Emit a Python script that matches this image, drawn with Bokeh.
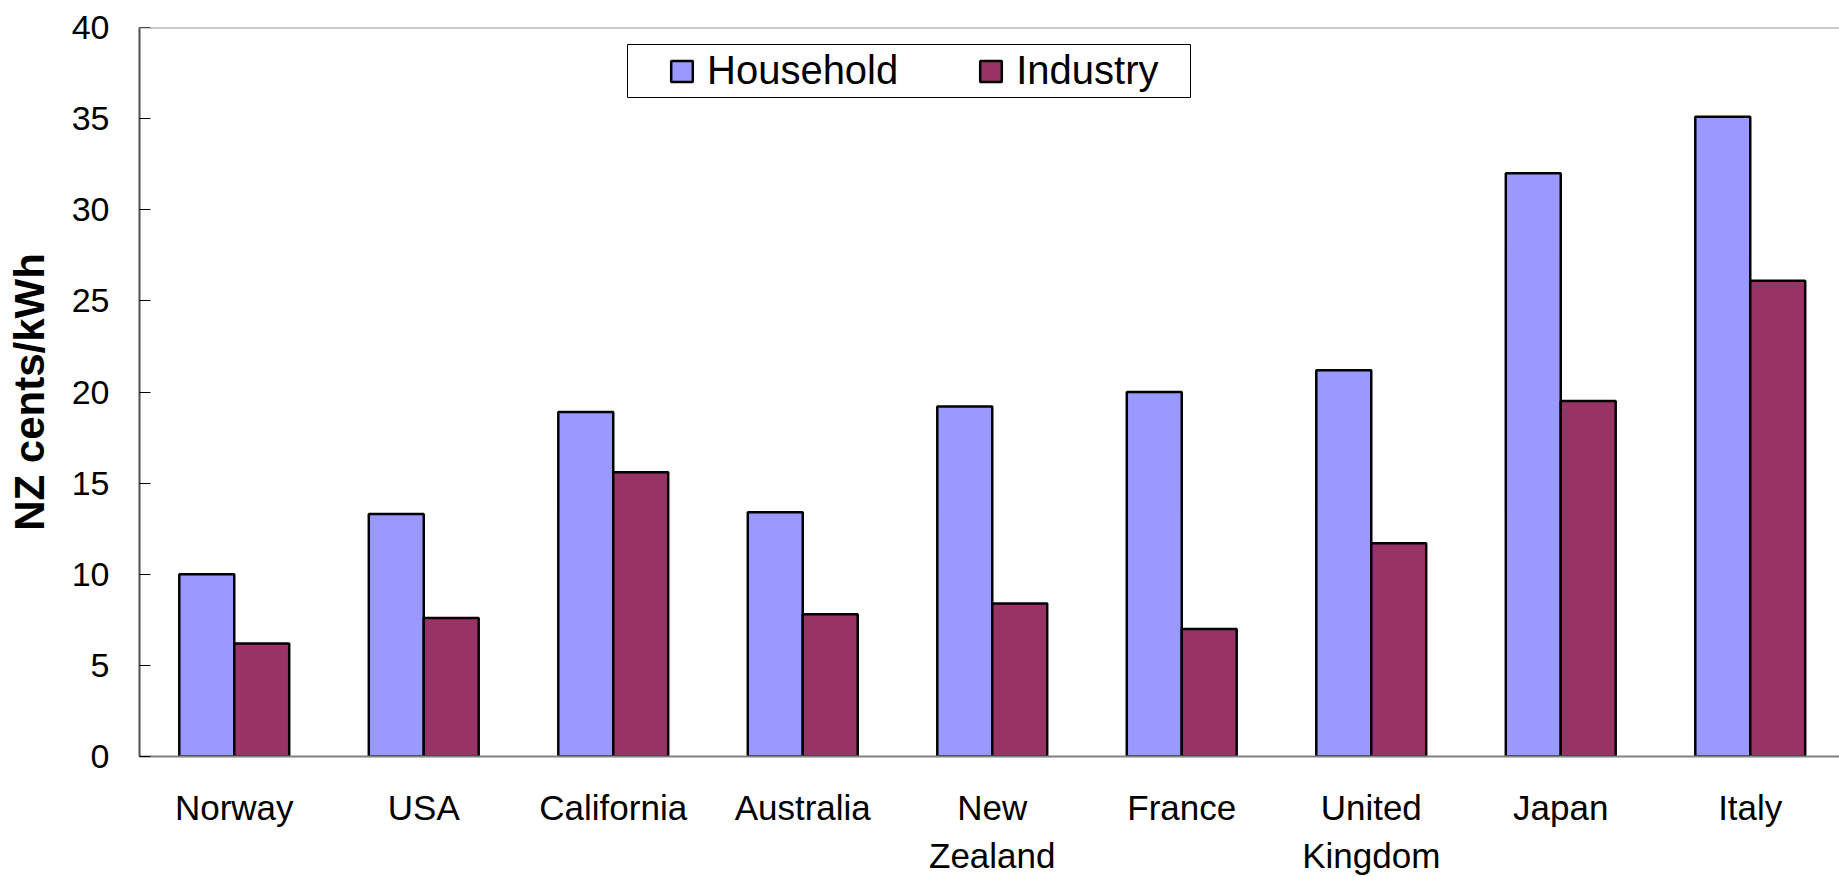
from bokeh.plotting import figure
from bokeh.models import Range1d, FixedTicker, ColumnDataSource, Span, BoxAnnotation, LinearAxis
from bokeh.transform import dodge
from bokeh.embed import file_html
from bokeh.resources import INLINE

categories = ["Norway", "USA", "California", "Australia", "New Zealand",
              "France", "United Kingdom", "Japan", "Italy"]
category_labels = ["Norway", "USA", "California", "Australia", "New\nZealand",
                   "France", "United\nKingdom", "Japan", "Italy"]
household = [10.0, 13.3, 18.9, 13.4, 19.2, 20.0, 21.2, 32.0, 35.1]
industry = [6.2, 7.6, 15.6, 7.8, 8.4, 7.0, 11.7, 19.5, 26.1]
y_ticks = [0, 5, 10, 15, 20, 25, 30, 35, 40]

FONT = "Liberation Sans"

x_pos = [i + 0.5 for i in range(len(categories))]
src = ColumnDataSource(data=dict(
    cat=categories,
    x=x_pos,
    household=household,
    industry=industry,
))

p = figure(width=1839, height=877, output_backend="svg", toolbar_location=None,
           x_range=Range1d(0, 8.971), y_range=Range1d(0, 40),
           min_border_left=139, min_border_right=0, min_border_top=27,
           min_border_bottom=121)
p.background_fill_color = "white"
p.border_fill_color = "white"
p.outline_line_color = None
p.grid.visible = False

p.vbar(x=dodge("x", -0.145), top="household", width=0.29, source=src,
       fill_color="#9999FF", line_color="black", line_width=2.5,
       legend_label="Household")
p.vbar(x=dodge("x", 0.145), top="industry", width=0.29, source=src,
       fill_color="#993366", line_color="black", line_width=2.5,
       legend_label="Industry")

# category labels: first line on the main x axis, second line on a second axis
first_lines = {xv: lab.split("\n")[0] for xv, lab in zip(x_pos, category_labels)}
second_lines = {xv: lab.split("\n")[1] for xv, lab in zip(x_pos, category_labels) if "\n" in lab}

xa = p.xaxis[0]
xa.ticker = FixedTicker(ticks=x_pos)
xa.major_label_overrides = first_lines
xa.axis_line_color = "#808080"
xa.axis_line_width = 2
xa.major_tick_line_color = None
xa.major_tick_in = 0
xa.major_tick_out = 0
xa.minor_tick_line_color = None
xa.major_label_standoff = 31
xa.major_label_text_font = FONT
xa.major_label_text_font_size = "35px"
xa.major_label_text_color = "black"
xa.major_label_text_line_height = 1.0

xa2 = LinearAxis(ticker=FixedTicker(ticks=list(second_lines.keys())),
                 major_label_overrides=second_lines,
                 axis_line_color=None, major_tick_line_color=None,
                 minor_tick_line_color=None, major_tick_in=0, major_tick_out=0,
                 major_label_standoff=6, major_label_text_font=FONT,
                 major_label_text_font_size="35px", major_label_text_color="black",
                 major_label_text_line_height=1.0)
p.add_layout(xa2, "below")

# y axis
p.yaxis.ticker = FixedTicker(ticks=y_ticks)
p.yaxis.major_tick_in = 11
p.yaxis.major_tick_out = 0
p.yaxis.major_tick_line_color = "black"
p.yaxis.minor_tick_line_color = None
p.yaxis.axis_line_color = "#505050"
p.yaxis.axis_line_width = 2
p.yaxis.major_label_text_font = FONT
p.yaxis.major_label_text_font_size = "34px"
p.yaxis.major_label_text_color = "black"
p.yaxis.major_label_standoff = 30
p.yaxis.axis_label = "NZ cents/kWh"
p.yaxis.axis_label_text_font = FONT
p.yaxis.axis_label_text_font_style = "bold"
p.yaxis.axis_label_text_font_size = "42px"
p.yaxis.axis_label_text_color = "black"
p.yaxis.axis_label_standoff = 16

# top border line
p.add_layout(Span(location=40, dimension="width", line_color="#999999", line_width=2))

# legend
leg = p.legend[0]
leg.orientation = "horizontal"
leg.location = (529, 663)
leg.padding = 0
leg.margin = 0
leg.spacing = 79
leg.label_standoff = 12
leg.glyph_width = 27
leg.glyph_height = 26
leg.border_line_color = None
leg.background_fill_alpha = 0
leg.label_text_font = FONT
leg.label_text_font_size = "40px"
leg.label_text_color = "black"

box = BoxAnnotation(left=488, right=1051, top=712, bottom=659,
                    left_units="screen", right_units="screen",
                    top_units="screen", bottom_units="screen",
                    fill_color=None, line_color="black", line_width=1, line_alpha=1)
p.add_layout(box)

open("out.html", "w").write(file_html(p, INLINE))
